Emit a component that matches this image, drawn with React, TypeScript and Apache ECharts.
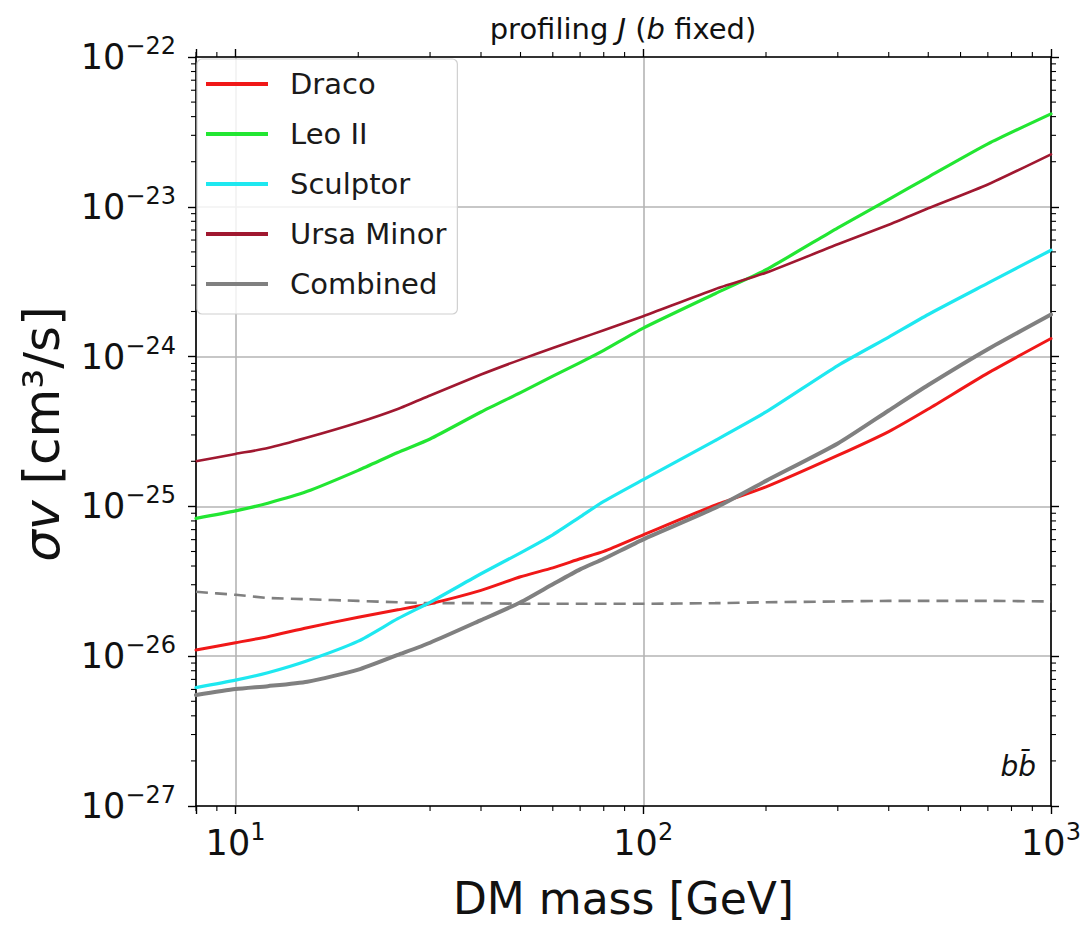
import React, { useEffect, useRef } from "react";
import * as echarts from "echarts";

// ---- data ----
const massGeV = [8, 10, 12, 15, 20, 25, 30, 40, 50, 60, 70, 80, 100, 150, 200, 300, 400, 500, 700, 1000];

const draco = [1.10e-26, 1.23e-26, 1.35e-26, 1.55e-26, 1.82e-26, 2.04e-26, 2.24e-26, 2.75e-26, 3.39e-26, 3.89e-26, 4.47e-26, 5.01e-26, 6.46e-26, 1.02e-25, 1.35e-25, 2.19e-25, 3.16e-25, 4.47e-25, 7.76e-25, 1.32e-24];
const leoII = [8.32e-26, 9.33e-26, 1.05e-25, 1.26e-25, 1.74e-25, 2.29e-25, 2.82e-25, 4.27e-25, 5.75e-25, 7.41e-25, 9.12e-25, 1.10e-24, 1.55e-24, 2.63e-24, 3.80e-24, 7.24e-24, 1.12e-23, 1.58e-23, 2.63e-23, 4.17e-23];
const sculptor = [6.17e-27, 6.92e-27, 7.76e-27, 9.33e-27, 1.26e-26, 1.78e-26, 2.29e-26, 3.55e-26, 4.90e-26, 6.46e-26, 8.51e-26, 1.08e-25, 1.51e-25, 2.75e-25, 4.27e-25, 8.71e-25, 1.35e-24, 1.91e-24, 3.09e-24, 5.13e-24];
const ursaMinor = [2.0e-25, 2.24e-25, 2.45e-25, 2.88e-25, 3.63e-25, 4.47e-25, 5.50e-25, 7.59e-25, 9.55e-25, 1.14e-24, 1.32e-24, 1.50e-24, 1.86e-24, 2.82e-24, 3.63e-24, 5.62e-24, 7.59e-24, 9.77e-24, 1.41e-23, 2.24e-23];
const combined = [5.50e-27, 6.03e-27, 6.31e-27, 6.76e-27, 8.13e-27, 1.02e-26, 1.23e-26, 1.74e-26, 2.29e-26, 3.02e-26, 3.80e-26, 4.47e-26, 6.03e-26, 9.77e-26, 1.48e-25, 2.63e-25, 4.37e-25, 6.46e-25, 1.12e-24, 1.91e-24];
const thermalRelic = [2.69e-26, 2.57e-26, 2.45e-26, 2.40e-26, 2.34e-26, 2.29e-26, 2.26e-26, 2.26e-26, 2.24e-26, 2.24e-26, 2.24e-26, 2.24e-26, 2.24e-26, 2.26e-26, 2.29e-26, 2.32e-26, 2.34e-26, 2.34e-26, 2.34e-26, 2.32e-26];

const legendNames = ["Draco", "Leo II", "Sculptor", "Ursa Minor", "Combined"];

// tick labels (powers of ten)
const xTickExponents = [1, 2, 3];
const yTickExponents = [-27, -26, -25, -24, -23, -22];

// minor tick locations
const xMinorTicks = [8, 9, 20, 30, 40, 50, 60, 70, 80, 90, 200, 300, 400, 500, 600, 700, 800, 900];
const yMinorMantissas = [2, 3, 4, 5, 6, 7, 8, 9];
const yMinorDecades = [-27, -26, -25, -24, -23];

const X_MIN = 8;
const X_MAX = 1000;
const Y_MIN = 1e-27;
const Y_MAX = 1e-22;
// tiny padding so that the end decades stay inside the log extent despite rounding
const Y_AXIS_MIN = 0.99999e-27;
const Y_AXIS_MAX = 1.00001e-22;

const FONT = "DejaVu Sans";

function pairs(ys: number[]) {
  return massGeV.map((m, i) => [m, ys[i]]);
}

function powLabel(allowed: number[]) {
  return (v: number) => {
    const l = Math.log10(v);
    const e = Math.round(l);
    if (Math.abs(l - e) > 1e-9 || allowed.indexOf(e) < 0) return "";
    const s = e < 0 ? "\u2212" + String(-e) : String(e);
    return `{b|10}{s|${s}}`;
  };
}

const powRich = {
  b: { fontSize: 35, fontFamily: FONT, color: "#111", lineHeight: 46 },
  s: { fontSize: 24, fontFamily: FONT, color: "#111", lineHeight: 26, verticalAlign: "top" },
};

export default function App() {
  const ref = useRef<HTMLDivElement>(null);

  useEffect(() => {
    if (!ref.current) return;
    const chart = echarts.init(ref.current, undefined, { renderer: "svg" });

    const yMinor: number[][] = [];
    yMinorDecades.forEach((d) =>
      yMinorMantissas.forEach((m) => yMinor.push([X_MIN, m * Math.pow(10, d)]))
    );
    const xMinor = xMinorTicks.map((x) => [x, Y_MIN]);

    const lineSeries = (name: string, ys: number[], color: string, width: number, z = 3) => ({
      name,
      type: "line",
      data: pairs(ys),
      color,
      showSymbol: false,
      symbol: "none",
      smooth: 0.2,
      lineStyle: { color, width, join: "round", cap: "round" },
      z,
      silent: true,
    });

    const option: any = {
      animation: false,
      backgroundColor: "#ffffff",
      textStyle: { fontFamily: FONT },
      grid: {
        left: 196,
        right: 31,
        top: 57,
        bottom: 120,
        containLabel: false,
        outerBoundsMode: "none",
      },
      legend: {
        data: legendNames,
        orient: "vertical",
        left: 197,
        top: 59,
        icon: "rect",
        itemWidth: 62,
        itemHeight: 4,
        itemGap: 14,
        padding: [7, 11, 12, 9],
        backgroundColor: "rgba(255,255,255,0.82)",
        borderColor: "#d0d0d0",
        borderWidth: 1.2,
        borderRadius: 5,
        selectedMode: false,
        textStyle: {
          fontFamily: FONT,
          fontSize: 29,
          color: "#1a1a1a",
          lineHeight: 36,
          padding: [0, 0, 0, 17],
        },
      },
      xAxis: [
        {
          type: "log",
          logBase: 10,
          min: X_MIN,
          max: X_MAX,
          position: "bottom",
          name: "DM mass [GeV]",
          nameLocation: "middle",
          nameGap: 70,
          nameTextStyle: { fontFamily: FONT, fontSize: 44, color: "#111" },
          axisLine: { show: true, onZero: false, lineStyle: { color: "#000", width: 1.6 } },
          axisTick: { show: true, inside: false, length: 8, lineStyle: { color: "#000", width: 1.4 } },
          axisLabel: {
            margin: 14,
            formatter: powLabel(xTickExponents),
            rich: powRich,
            showMinLabel: true,
            showMaxLabel: true,
          },
          splitLine: { show: true, lineStyle: { color: "#b4b4b4", width: 1.6 } },
          minorTick: { show: false },
        },
        {
          type: "log",
          logBase: 10,
          min: X_MIN,
          max: X_MAX,
          position: "top",
          axisLine: { show: true, onZero: false, lineStyle: { color: "#000", width: 1.6 } },
          axisTick: { show: true, inside: false, length: 8, lineStyle: { color: "#000", width: 1.4 } },
          axisLabel: { show: false },
          splitLine: { show: false },
        },
      ],
      yAxis: [
        {
          type: "log",
          logBase: 10,
          min: Y_AXIS_MIN,
          max: Y_AXIS_MAX,
          position: "left",
          axisLine: { show: true, onZero: false, lineStyle: { color: "#000", width: 1.6 } },
          axisTick: { show: true, inside: false, length: 8, lineStyle: { color: "#000", width: 1.4 } },
          axisLabel: {
            margin: 20,
            formatter: powLabel(yTickExponents),
            rich: powRich,
            showMinLabel: true,
            showMaxLabel: true,
          },
          splitLine: { show: true, lineStyle: { color: "#b4b4b4", width: 1.6 } },
        },
        {
          type: "log",
          logBase: 10,
          min: Y_AXIS_MIN,
          max: Y_AXIS_MAX,
          position: "right",
          axisLine: { show: true, onZero: false, lineStyle: { color: "#000", width: 1.6 } },
          axisTick: { show: true, inside: false, length: 8, lineStyle: { color: "#000", width: 1.4 } },
          axisLabel: { show: false },
          splitLine: { show: false },
        },
      ],
      graphic: [
        {
          type: "text",
          x: 623,
          y: 29,
          silent: true,
          style: {
            text: "{n|profiling }{i|J}{n| (}{i|b}{n| fixed)}",
            textAlign: "center",
            textVerticalAlign: "middle",
            rich: {
              n: { fontFamily: FONT, fontSize: 29, fill: "#111", color: "#111" },
              i: { fontFamily: FONT, fontSize: 29, fontStyle: "italic", fill: "#111", color: "#111" },
            },
          },
        },
        {
          type: "text",
          x: 42,
          y: 434,
          rotation: Math.PI / 2,
          silent: true,
          style: {
            text: "{i|\u03c3v}{n| [cm\u00b3/s]}",
            textAlign: "center",
            textVerticalAlign: "middle",
            rich: {
              i: { fontFamily: FONT, fontSize: 50, fontStyle: "italic", fill: "#111", color: "#111" },
              n: { fontFamily: FONT, fontSize: 50, fill: "#111", color: "#111" },
            },
          },
        },
        {
          type: "text",
          x: 1036,
          y: 766,
          silent: true,
          style: {
            text: "bb\u0304",
            font: `italic 28px "${FONT}"`,
            fill: "#111",
            textAlign: "right",
            textVerticalAlign: "middle",
          },
        },
      ],
      series: [
        lineSeries("Draco", draco, "#f01818", 3),
        lineSeries("Leo II", leoII, "#22e632", 3.2),
        lineSeries("Sculptor", sculptor, "#1ee8f0", 3.2),
        lineSeries("Ursa Minor", ursaMinor, "#a01830", 2.6),
        lineSeries("Combined", combined, "#808080", 4),
        {
          name: "Thermal relic",
          type: "line",
          data: pairs(thermalRelic),
          showSymbol: false,
          symbol: "none",
          smooth: 0.2,
          color: "#808080",
          lineStyle: { color: "#808080", width: 2.6, type: [12, 7] },
          z: 2,
          silent: true,
        },
        {
          name: "xMinorTicks",
          type: "custom",
          data: xMinor,
          clip: false,
          silent: true,
          z: 6,
          renderItem: (params: any, api: any) => {
            const x = api.value(0);
            const b = api.coord([x, Y_MIN]);
            const t = api.coord([x, Y_MAX]);
            const st = { stroke: "#000", lineWidth: 1.1 };
            return {
              type: "group",
              children: [
                { type: "line", shape: { x1: b[0], y1: b[1], x2: b[0], y2: b[1] + 5 }, style: st },
                { type: "line", shape: { x1: t[0], y1: t[1], x2: t[0], y2: t[1] - 5 }, style: st },
              ],
            };
          },
        },
        {
          name: "yMinorTicks",
          type: "custom",
          data: yMinor,
          clip: false,
          silent: true,
          z: 6,
          renderItem: (params: any, api: any) => {
            const y = api.value(1);
            const l = api.coord([X_MIN, y]);
            const r = api.coord([X_MAX, y]);
            const st = { stroke: "#000", lineWidth: 1.1 };
            return {
              type: "group",
              children: [
                { type: "line", shape: { x1: l[0], y1: l[1], x2: l[0] - 5, y2: l[1] }, style: st },
                { type: "line", shape: { x1: r[0], y1: r[1], x2: r[0] + 5, y2: r[1] }, style: st },
              ],
            };
          },
        },
      ],
    };

    chart.setOption(option);
    return () => {
      chart.dispose();
    };
  }, []);

  return (
    <div
      ref={ref}
      style={{ position: "fixed", left: 0, top: 0, width: 1082, height: 926, background: "#fff" }}
    />
  );
}
